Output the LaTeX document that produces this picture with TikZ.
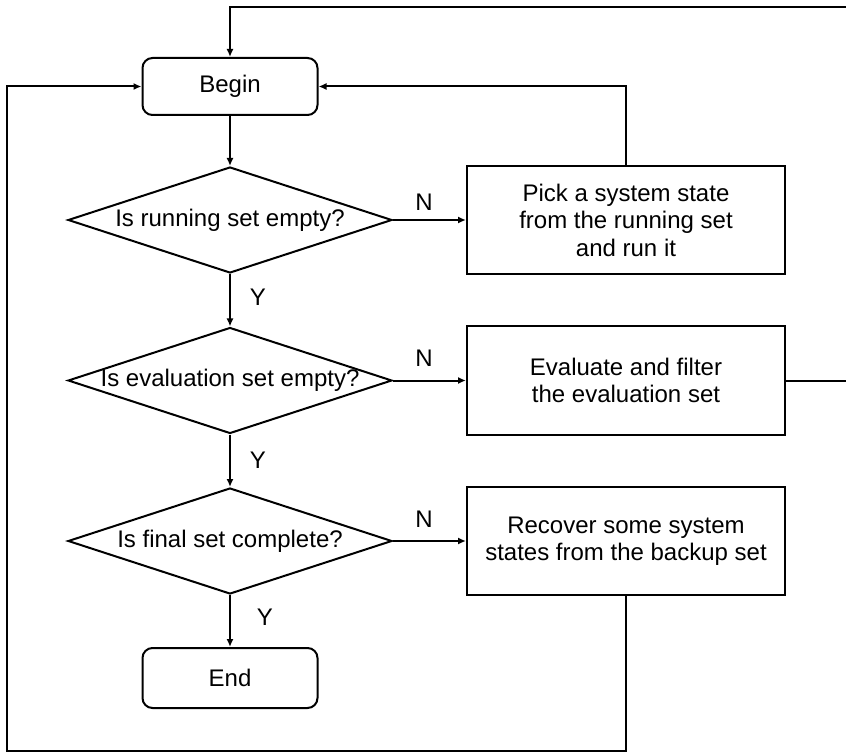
\documentclass[tikz,border=0pt]{standalone}
\usepackage{fontspec}
\setmainfont{Liberation Sans}
\usetikzlibrary{shapes.geometric,arrows.meta}
\begin{document}
\begin{tikzpicture}[x=0.5pt,y=-0.5pt, line width=1pt,
  font=\fontsize{12}{13.75}\selectfont,
  term/.style={draw, rectangle, rounded corners=5pt, minimum width=87.5pt, minimum height=28.5pt, inner sep=0pt},
  decision/.style={draw, diamond, aspect=3.06, minimum width=162pt, minimum height=53pt, inner sep=0pt},
  proc/.style={draw, rectangle, minimum width=159pt, minimum height=54pt, align=center, inner sep=0pt},
  arr/.style={-{Latex[length=4pt,width=3.5pt]}},
  lbl/.style={inner sep=0pt}]
\useasboundingbox (0,0) rectangle (846,754);
\node[term] (begin) at (230,86.5) {Begin};
\node[decision] (d1) at (230,220) {\makebox[0pt]{Is running set empty?}};
\node[decision] (d2) at (230,380.5) {\makebox[0pt]{Is evaluation set empty?}};
\node[decision] (d3) at (230,541) {\makebox[0pt]{Is final set complete?}};
\node[term, minimum height=30pt] (end) at (230,678) {End};
\node[proc] (pick) at (626,220) {Pick a system state\\from the running set\\and run it};
\node[proc] (eval) at (626,380.5) {Evaluate and filter\\the evaluation set};
\node[proc] (recover) at (626,541) {Recover some system\\states from the backup set};
\coordinate (tr) at (846,7);
\coordinate (er) at (846,380.5);
\coordinate (bl) at (7,751);
\draw[arr] (begin) -- (d1);
\draw[arr] (d1) -- (d2);
\draw[arr] (d2) -- (d3);
\draw[arr] (d3) -- (end);
\draw[arr] (d1.east) -- (pick.west);
\draw[arr] (d2.east) -- (eval.west);
\draw[arr] (d3.east) -- (recover.west);
\draw[arr] (pick.north) |- (begin.east);
\draw[arr] (tr) -| (begin.north);
\draw (eval.east) -- (er);
\draw[arr] (recover.south) |- (bl) |- (begin.west);
\node[lbl] (n1) at (424,202) {N};
\node[lbl] (n2) at (424,358) {N};
\node[lbl] (n3) at (424,519) {N};
\node[lbl] (y1) at (258,297) {Y};
\node[lbl] (y2) at (258,460) {Y};
\node[lbl] (y3) at (265,617) {Y};
\end{tikzpicture}
\end{document}
